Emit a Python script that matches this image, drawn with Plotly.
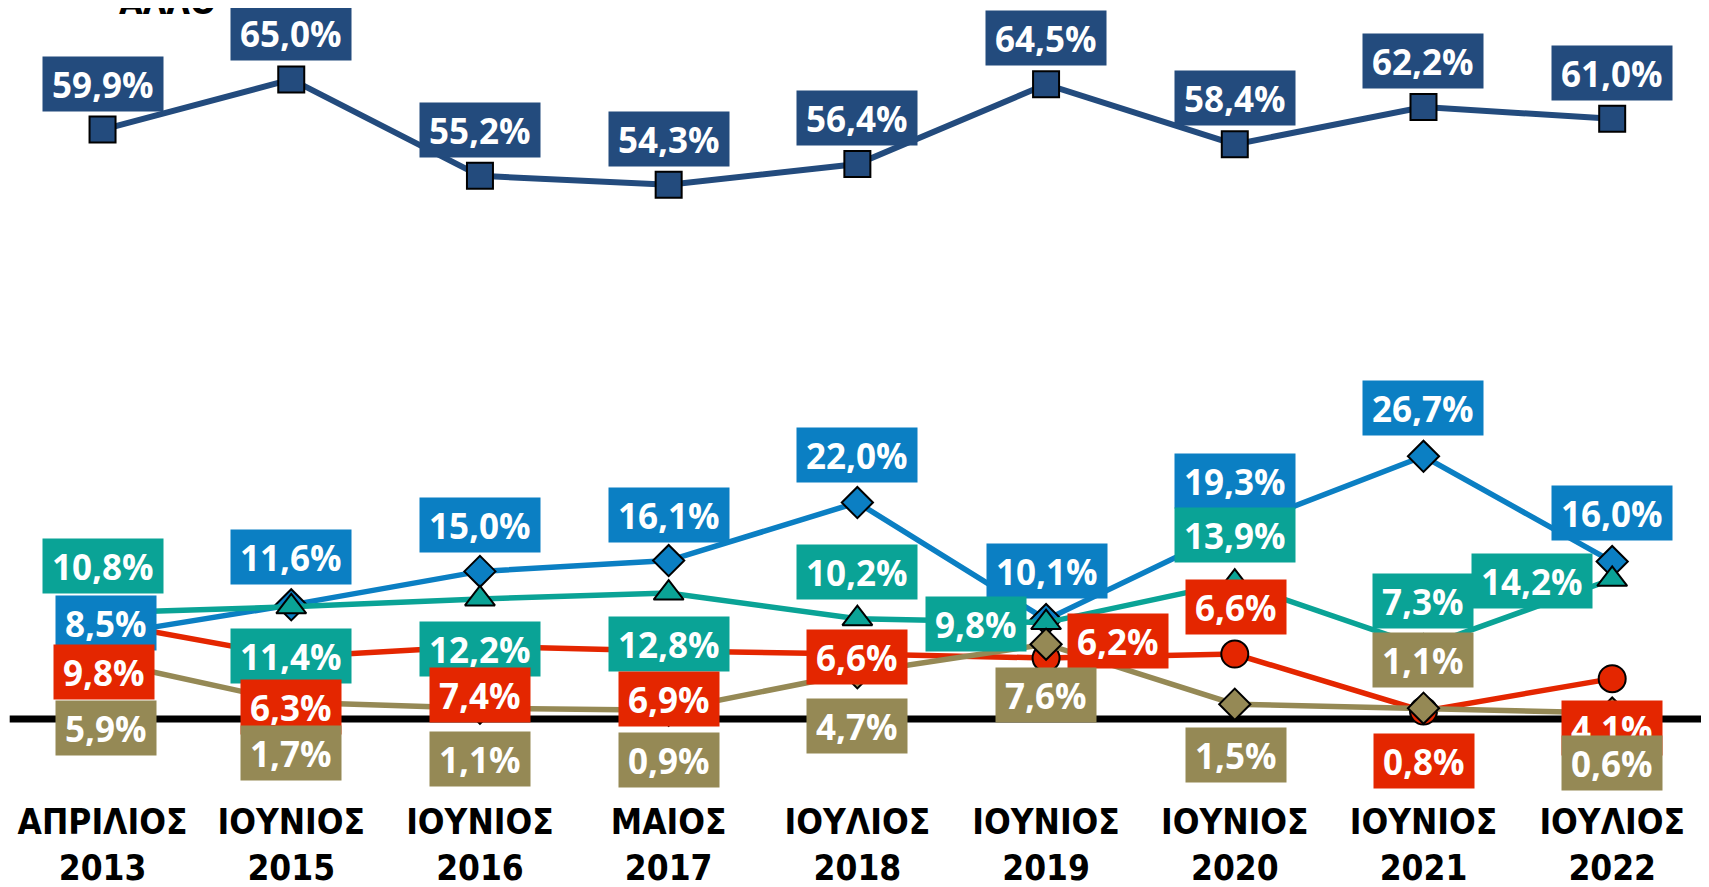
import plotly.graph_objects as go

# categories (survey waves)
categories = [
    "ΑΠΡΙΛΙΟΣ<br>2013", "ΙΟΥΝΙΟΣ<br>2015", "ΙΟΥΝΙΟΣ<br>2016", "ΜΑΙΟΣ<br>2017",
    "ΙΟΥΛΙΟΣ<br>2018", "ΙΟΥΝΙΟΣ<br>2019", "ΙΟΥΝΙΟΣ<br>2020", "ΙΟΥΝΙΟΣ<br>2021",
    "ΙΟΥΛΙΟΣ<br>2022",
]

# series values (%)
series_dark_blue = [59.9, 65.0, 55.2, 54.3, 56.4, 64.5, 58.4, 62.2, 61.0]
series_light_blue = [8.5, 11.6, 15.0, 16.1, 22.0, 10.1, 19.3, 26.7, 16.0]
series_teal = [10.8, 11.4, 12.2, 12.8, 10.2, 9.8, 13.9, 7.3, 14.2]
series_red = [9.8, 6.3, 7.4, 6.9, 6.6, 6.2, 6.6, 0.8, 4.1]
series_olive = [5.9, 1.7, 1.1, 0.9, 4.7, 7.6, 1.5, 1.1, 0.6]

LABEL_FONT = "Open Sans"
TICK_FONT = "Liberation Sans Narrow, DejaVu Sans Condensed, Arial Narrow, sans-serif"

# style + label offsets (px, dx right, dy down) for each series
styles = [
    dict(values=series_dark_blue, color="#234B7D", symbol="square", size=26, width=6,
         offsets=[(0, -46)] * 9),
    dict(values=series_light_blue, color="#0B7FC3", symbol="diamond", size=24, width=5.5,
         offsets=[(3, -12), (0, -48), (0, -46), (0, -46), (0, -48), (1, -49),
                  (0, -48), (0, -48), (0, -49)]),
    dict(values=series_teal, color="#0AA396", symbol="triangle-up", size=26, width=5.5,
         offsets=[(0, -47), (0, 49), (0, 50), (0, 51), (0, -47), (-70, 1),
                  (0, -47), (0, -46), (-80, 2)]),
    dict(values=series_red, color="#E42600", symbol="circle", size=27, width=5.5,
         offsets=[(1, 49), (0, 50), (0, 49), (0, 48), (0, 3), (72, -17),
                  (1, -47), (1, 50), (0, 49)]),
    dict(values=series_olive, color="#958955", symbol="diamond", size=24, width=5.5,
         offsets=[(3, 67), (0, 51), (0, 51), (0, 50), (0, 53), (0, 51),
                  (1, 51), (0, -48), (0, 50)]),
]

x = list(range(len(categories)))
fig = go.Figure()

for s in styles:
    fig.add_trace(go.Scatter(
        x=x,
        y=s["values"],
        mode="lines+markers",
        line=dict(color=s["color"], width=s["width"]),
        marker=dict(symbol=s["symbol"], size=s["size"], color=s["color"],
                    line=dict(color="black", width=2)),
        cliponaxis=False,
        hoverinfo="skip",
    ))

annotations = []
for s in styles:
    for i, v in enumerate(s["values"]):
        dx, dy = s["offsets"][i]
        annotations.append(dict(
            x=i, y=v, xref="x", yref="y",
            text=f"{v:.1f}".replace(".", ",") + "%",
            showarrow=False,
            xshift=dx, yshift=-dy,
            font=dict(family=LABEL_FONT, size=35, color="white", weight="bold"),
            bgcolor=s["color"],
            borderpad=9,
            height=36,
        ))

# legend entry cut off at the very top
annotations.append(dict(
    x=0.064, y=1, xref="paper", yref="paper",
    xanchor="left", yanchor="bottom", yshift=-16,
    text="ΑΛΛΟ", showarrow=False,
    font=dict(family=TICK_FONT, size=34, color="black", weight="bold"),
))

fig.update_layout(
    width=1701,
    height=879,
    margin=dict(l=0, r=0, t=0, b=107),
    paper_bgcolor="white",
    plot_bgcolor="white",
    showlegend=False,
    annotations=annotations,
    shapes=[dict(type="line", xref="paper", yref="y", x0=0.001, x1=1, y0=0, y1=0,
                 line=dict(color="black", width=7), layer="below")],
    xaxis=dict(
        range=[-0.501, 8.513],
        tickvals=x,
        ticktext=categories,
        showgrid=False, zeroline=False, showline=False, ticks="",
        automargin=False,
        ticklabelstandoff=18,
        tickfont=dict(family=TICK_FONT, size=35, color="black", weight="bold"),
    ),
    yaxis=dict(range=[-6.2, 72.26], visible=False, automargin=False),
)

fig.write_html("out.html")
